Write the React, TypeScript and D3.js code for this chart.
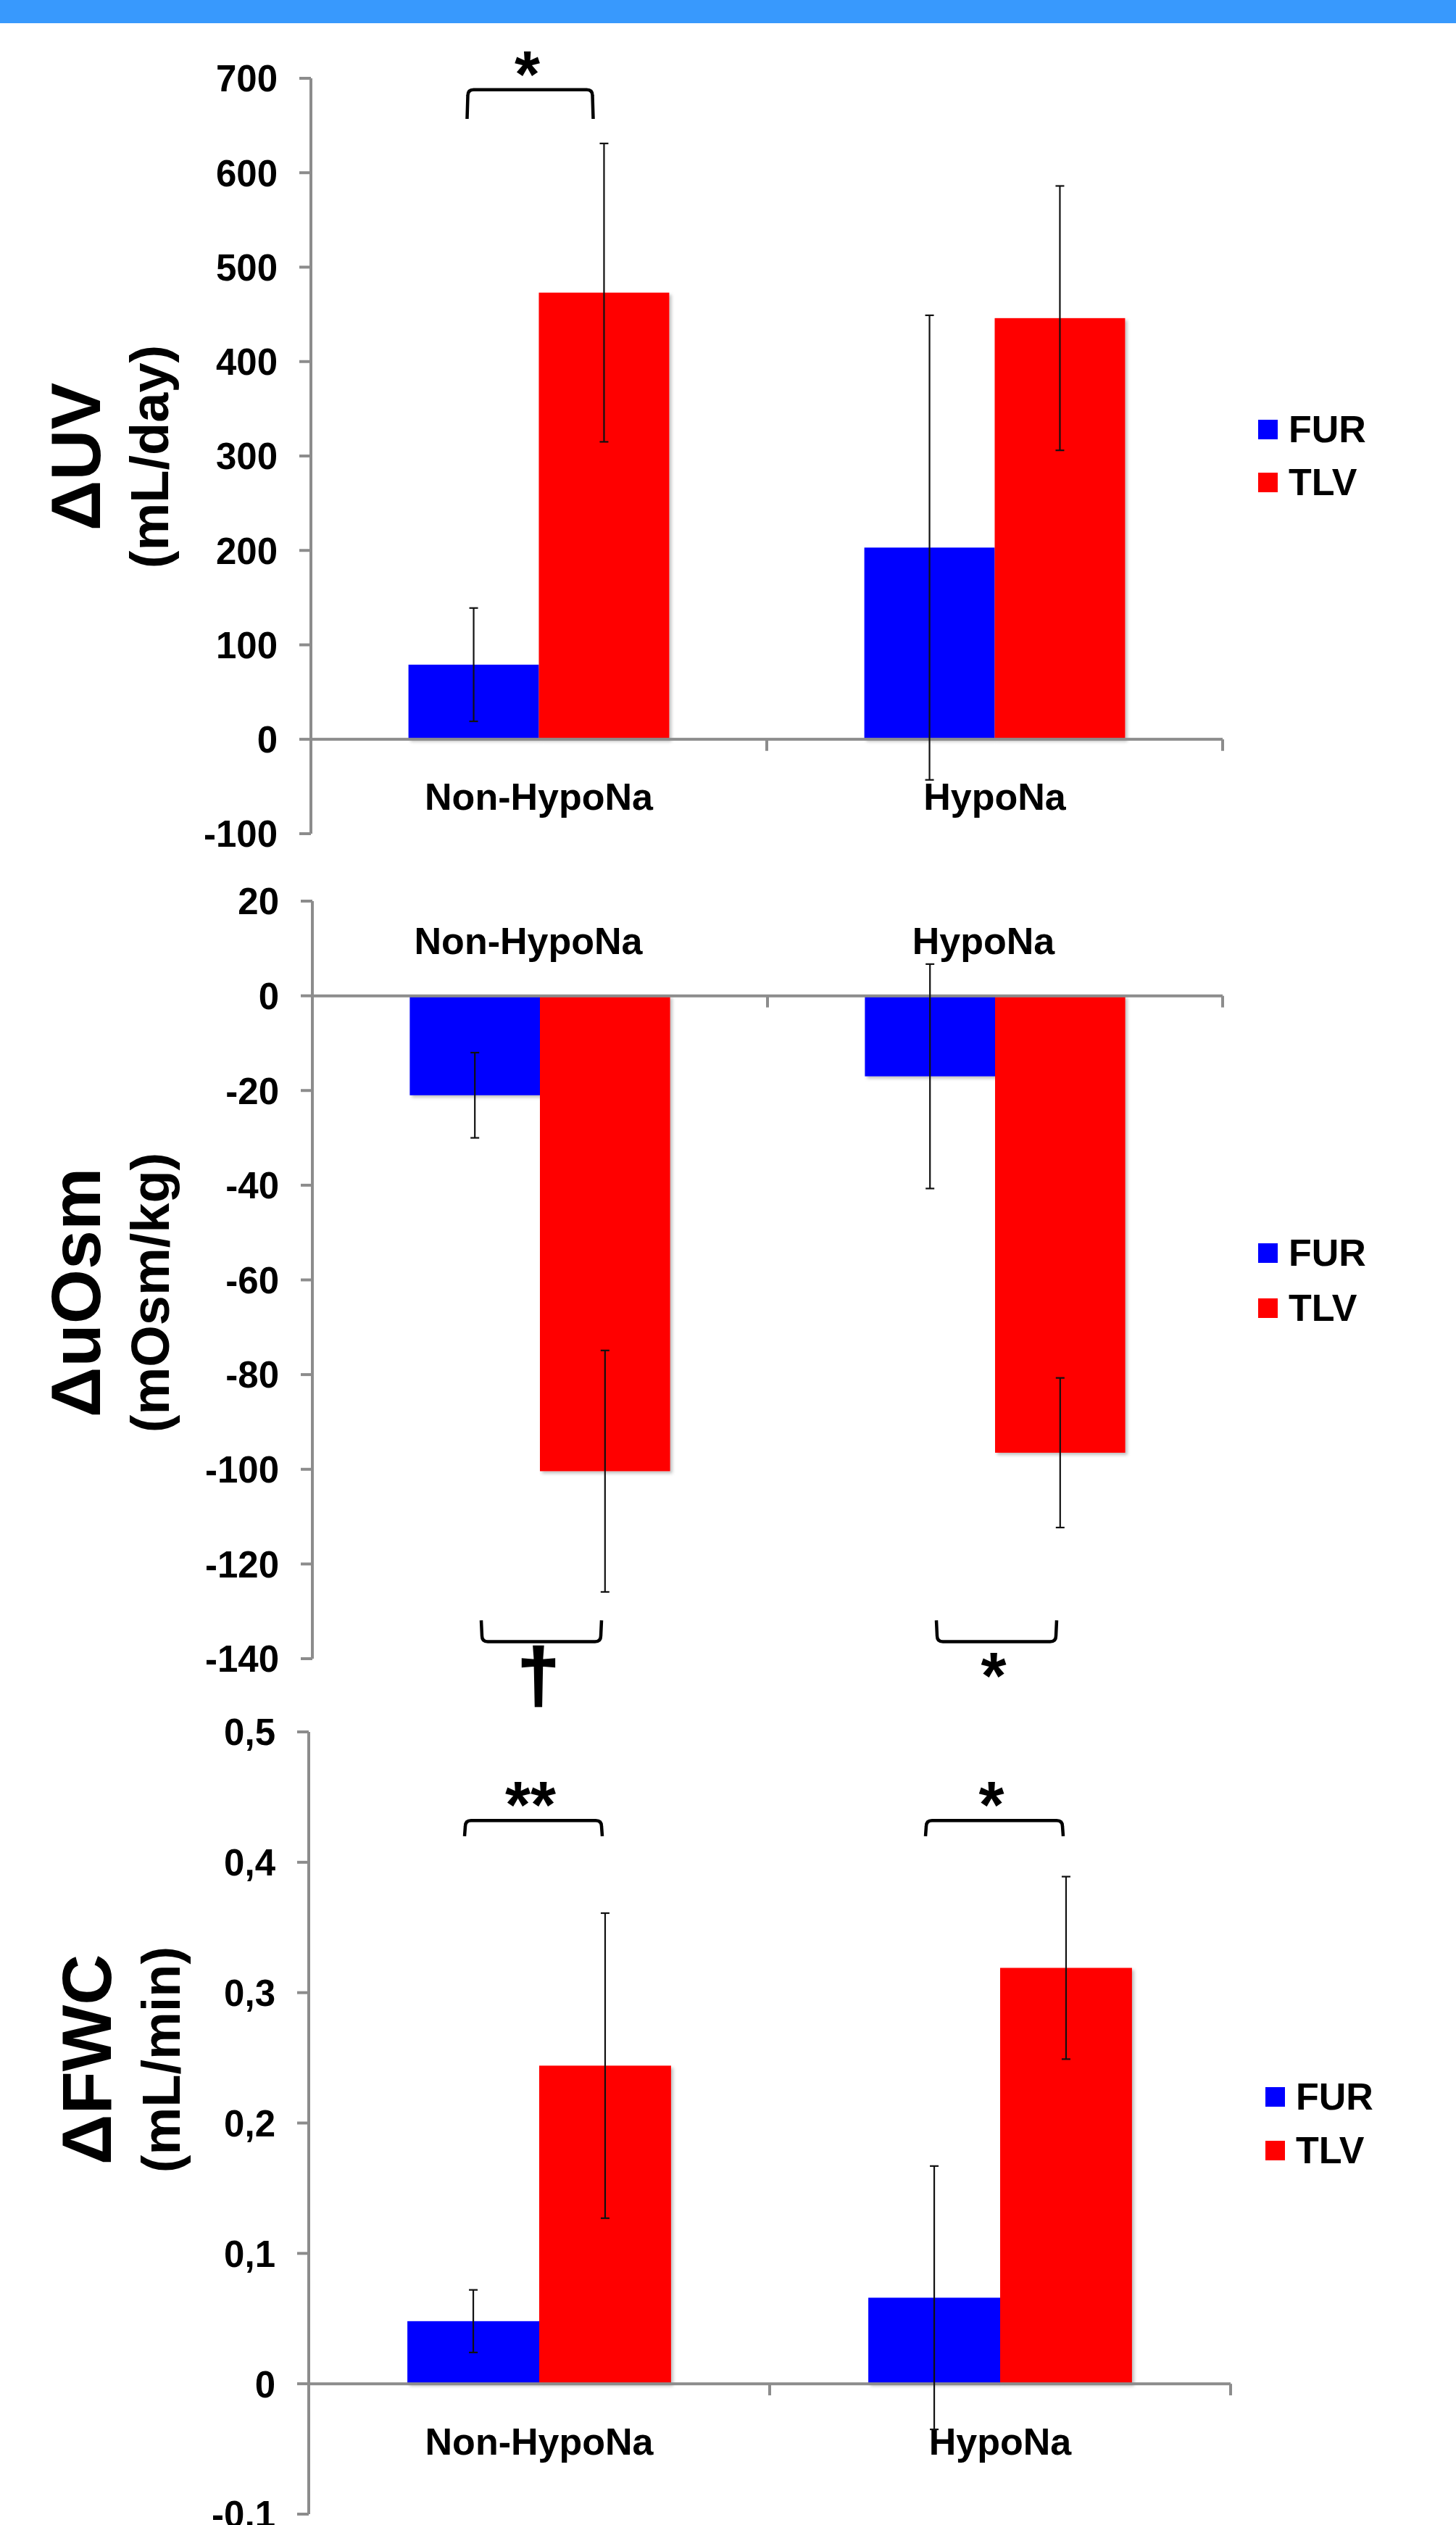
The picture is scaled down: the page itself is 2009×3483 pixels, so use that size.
import * as d3 from "d3";
import { useEffect } from "react";

const W = 2009;
const H = 3483;

const categories = ["Non-HypoNa", "HypoNa"];
const seriesNames = ["FUR", "TLV"];
const seriesColors = ["#0000ff", "#ff0000"];

// ΔUV (mL/day)
const uvFur = [79, 203];
const uvFurErr = [60, 246];
const uvTlv = [473, 446];
const uvTlvErr = [158, 140];
const uvTicks = [-100, 0, 100, 200, 300, 400, 500, 600, 700];

// ΔuOsm (mOsm/kg)
const osmFur = [-21, -17];
const osmFurErr = [9, 23.7];
const osmTlv = [-100.4, -96.5];
const osmTlvErr = [25.5, 15.8];
const osmTicks = [-140, -120, -100, -80, -60, -40, -20, 0, 20];

// ΔFWC (mL/min)
const fwcFur = [0.048, 0.066];
const fwcFurErr = [0.024, 0.101];
const fwcTlv = [0.244, 0.319];
const fwcTlvErr = [0.117, 0.07];
const fwcTicks = [-0.1, 0, 0.1, 0.2, 0.3, 0.4, 0.5];

// significance brackets: category, mark, bracket line level, leg end level
const uvSig = [{ cat: "Non-HypoNa", mark: "*", line: 688, leg: 657 }];
const osmSig = [
  { cat: "Non-HypoNa", mark: "†", line: -136.4, leg: -131.9 },
  { cat: "HypoNa", mark: "*", line: -136.4, leg: -131.9 },
];
const fwcSig = [
  { cat: "Non-HypoNa", mark: "**", line: 0.432, leg: 0.42 },
  { cat: "HypoNa", mark: "*", line: 0.432, leg: 0.42 },
];

const FONT = "'Liberation Sans', Arial, Helvetica, sans-serif";
const AXIS = "#8c8c8c";

const fmtComma = (v) =>
  v === 0 ? "0" : d3.format(".1f")(v).replace(".", ",").replace("−", "-");

const panels = [
  {
    title: "ΔUV",
    unit: "(mL/day)",
    fur: uvFur,
    furErr: uvFurErr,
    tlv: uvTlv,
    tlvErr: uvTlvErr,
    ticks: uvTicks,
    fmt: (v) => String(v),
    domain: [-100, 700],
    range: [1150, 108],
    axisX: 429,
    right: 1687,
    labelOffset: 97,
    labelDx: 0,
    titleX: 138,
    unitX: 232,
    titleY: 630,
    legendX: 1736,
    legendY: 579,
    legendGap: 73,
    sig: uvSig,
    sigDx: -12,
    sigHalf: 86,
    above: true,
  },
  {
    title: "ΔuOsm",
    unit: "(mOsm/kg)",
    fur: osmFur,
    furErr: osmFurErr,
    tlv: osmTlv,
    tlvErr: osmTlvErr,
    ticks: osmTicks,
    fmt: (v) => String(v),
    domain: [-140, 20],
    range: [2288, 1243],
    axisX: 431,
    right: 1687,
    labelOffset: -58,
    labelDx: -16,
    titleX: 138,
    unitX: 233,
    titleY: 1783,
    legendX: 1736,
    legendY: 1715,
    legendGap: 76,
    sig: osmSig,
    sigDx: 2,
    sigHalf: 82,
    above: false,
  },
  {
    title: "ΔFWC",
    unit: "(mL/min)",
    fur: fwcFur,
    furErr: fwcFurErr,
    tlv: fwcTlv,
    tlvErr: fwcTlvErr,
    ticks: fwcTicks,
    fmt: fmtComma,
    domain: [-0.1, 0.5],
    range: [3468, 2389],
    axisX: 426,
    right: 1698,
    labelOffset: 98,
    labelDx: 0,
    titleX: 153,
    unitX: 248,
    titleY: 2841,
    legendX: 1746,
    legendY: 2879,
    legendGap: 74,
    sig: fwcSig,
    sigDx: -8,
    sigHalf: 94,
    above: true,
  },
];

function bracketPath(x1, x2, yLine, yLeg) {
  const dir = yLeg > yLine ? 1 : -1;
  const r = 8;
  return [
    `M${x1 - 1},${yLeg}`,
    `L${x1},${yLine + dir * r}`,
    `Q${x1},${yLine} ${x1 + r},${yLine}`,
    `L${x2 - r},${yLine}`,
    `Q${x2},${yLine} ${x2},${yLine + dir * r}`,
    `L${x2 + 1},${yLeg}`,
  ].join(" ");
}

function Panel({ p }) {
  const y = d3.scaleLinear().domain(p.domain).range(p.range);
  const x = d3.scaleBand().domain(categories).range([p.axisX, p.right]).padding(0);
  const bw = x.bandwidth();
  const barW = bw * 0.286;
  const inner = d3.scaleBand().domain(seriesNames).range([bw / 2 - barW, bw / 2 + barW]);
  const zeroY = y(0);
  const means = [p.fur, p.tlv];
  const errs = [p.furErr, p.tlvErr];

  return (
    <g>
      {/* bars */}
      {seriesNames.map((s, si) =>
        categories.map((c, ci) => {
          const v = means[si][ci];
          return (
            <rect
              key={s + c}
              x={x(c) + inner(s)}
              y={Math.min(y(v), zeroY)}
              width={inner.bandwidth()}
              height={Math.abs(y(v) - zeroY)}
              fill={seriesColors[si]}
              filter="url(#shadow)"
            />
          );
        })
      )}

      {/* y axis */}
      <line x1={p.axisX} x2={p.axisX} y1={y(p.domain[1])} y2={y(p.domain[0])} stroke={AXIS} strokeWidth={4} />
      {p.ticks.map((t) => (
        <g key={t}>
          <line x1={p.axisX - 16} x2={p.axisX} y1={y(t)} y2={y(t)} stroke={AXIS} strokeWidth={4} />
          <text
            x={p.axisX - 46}
            y={y(t)}
            dy="0.36em"
            textAnchor="end"
            fontFamily={FONT}
            fontWeight="bold"
            fontSize={51}
          >
            {p.fmt(t)}
          </text>
        </g>
      ))}

      {/* x axis at zero */}
      <line x1={p.axisX} x2={p.right} y1={zeroY} y2={zeroY} stroke={AXIS} strokeWidth={4} />
      {categories.map((c) => (
        <line
          key={"xt" + c}
          x1={x(c) + bw}
          x2={x(c) + bw}
          y1={zeroY}
          y2={zeroY + 16}
          stroke={AXIS}
          strokeWidth={4}
        />
      ))}
      {categories.map((c) => (
        <text
          key={"xl" + c}
          x={x(c) + bw / 2 + p.labelDx}
          y={zeroY + p.labelOffset}
          textAnchor="middle"
          fontFamily={FONT}
          fontWeight="bold"
          fontSize={52}
        >
          {c}
        </text>
      ))}

      {/* error bars */}
      {seriesNames.map((s, si) =>
        categories.map((c, ci) => {
          const cx = x(c) + inner(s) + inner.bandwidth() / 2;
          const v = means[si][ci];
          const e = errs[si][ci];
          const yHi = y(v + e);
          const yLo = y(v - e);
          return (
            <g key={"e" + s + c} stroke="#111" strokeWidth={2.2}>
              <line x1={cx} x2={cx} y1={yHi} y2={yLo} />
              <line x1={cx - 6} x2={cx + 6} y1={yHi} y2={yHi} />
              <line x1={cx - 6} x2={cx + 6} y1={yLo} y2={yLo} />
            </g>
          );
        })
      )}

      {/* significance brackets */}
      {p.sig.map((b) => {
        const cx = x(b.cat) + bw / 2 + p.sigDx;
        const yl = y(b.line);
        const yg = y(b.leg);
        const isDagger = b.mark === "†";
        const markY = p.above ? yl + 10 : yl + (isDagger ? 82 : 79);
        return (
          <g key={"s" + b.cat}>
            <path
              d={bracketPath(cx - p.sigHalf, cx + p.sigHalf, yl, yg)}
              fill="none"
              stroke="#000"
              strokeWidth={4.5}
            />
            <text
              x={cx - 4}
              y={markY}
              textAnchor="middle"
              fontFamily={FONT}
              fontWeight="bold"
              fontSize={isDagger ? 104 : 90}
              stroke={isDagger ? "#000" : "none"}
              strokeWidth={isDagger ? 2.5 : 0}
            >
              {b.mark}
            </text>
          </g>
        );
      })}

      {/* y titles */}
      <text
        transform={`translate(${p.titleX},${p.titleY}) rotate(-90)`}
        textAnchor="middle"
        fontFamily={FONT}
        fontWeight="bold"
        fontSize={97}
      >
        {p.title}
      </text>
      <text
        transform={`translate(${p.unitX},${p.titleY}) rotate(-90)`}
        textAnchor="middle"
        fontFamily={FONT}
        fontWeight="bold"
        fontSize={74}
      >
        {p.unit}
      </text>

      {/* legend */}
      {seriesNames.map((s, si) => (
        <g key={"lg" + s}>
          <rect
            x={p.legendX}
            y={p.legendY + si * p.legendGap}
            width={27}
            height={27}
            fill={seriesColors[si]}
          />
          <text
            x={p.legendX + 42}
            y={p.legendY + si * p.legendGap + 31}
            fontFamily={FONT}
            fontWeight="bold"
            fontSize={52}
          >
            {s}
          </text>
        </g>
      ))}
    </g>
  );
}

export default function App() {
  useEffect(() => {
    document.body.style.margin = "0";
  }, []);

  return (
    <svg
      width={W}
      height={H}
      style={{ position: "absolute", left: 0, top: 0, background: "#fff" }}
    >
      <defs>
        <filter id="shadow" x="-5%" y="-5%" width="115%" height="115%">
          <feDropShadow dx="3" dy="3" stdDeviation="2" floodColor="#000" floodOpacity="0.25" />
        </filter>
      </defs>
      <rect x={0} y={0} width={W} height={H} fill="#fff" />
      <rect x={0} y={0} width={W} height={32} fill="#3899fd" />
      {panels.map((p) => (
        <Panel key={p.title} p={p} />
      ))}
    </svg>
  );
}
